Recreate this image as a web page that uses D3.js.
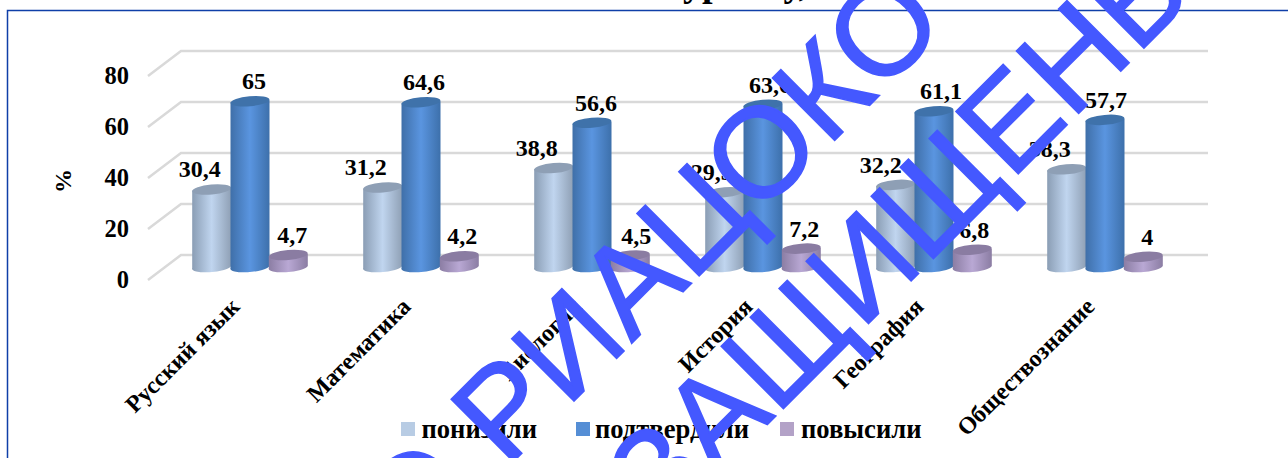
<!DOCTYPE html>
<html><head><meta charset="utf-8">
<script src="https://cdn.jsdelivr.net/npm/d3@7"></script>
<style>html,body{margin:0;padding:0;background:#fff;overflow:hidden}svg{display:block}</style>
</head><body><svg id="c" width="1288" height="458"></svg>
<script>
const categories=["Русский язык","Математика","Биология","История","География","Обществознание"];
const lowered=[30.4,31.2,38.8,29.3,32.2,38.3];
const confirmed=[65,64.6,56.6,63.6,61.1,57.7];
const raised=[4.7,4.2,4.5,7.2,6.8,4];
const ticks=[0,20,40,60,80];
const seriesNames=["понизили","подтвердили","повысили"];
const seriesColors=[["#8a9db4","#c0d5ef","#8fa0b5"],["#3f6fa8","#5a95e0","#3d70ab"],["#8b7da3","#b9a8d4","#8b7da3"]];
const topColors=["#8e9fb5","#3f72aa","#8a7ca2"];
const legendColors=["#b8cce4","#558ed5","#b3a2c7"];
const watermark=["О РИАЦОКО","ЗАЩИЩЕНЫ"];

const svg=d3.select("#c");
const defs=svg.append("defs");
seriesColors.forEach((c,i)=>{
  const g=defs.append("linearGradient").attr("id","g"+i);
  g.append("stop").attr("offset","0%").attr("stop-color",c[0]);
  g.append("stop").attr("offset","50%").attr("stop-color",c[1]);
  g.append("stop").attr("offset","100%").attr("stop-color",c[2]);
});
const serif="'Liberation Serif','Times New Roman',serif";
svg.append("rect").attr("x",7.5).attr("y",10.5).attr("width",1400).attr("height",600).attr("fill","#fff").attr("stroke","#0f3fa8").attr("stroke-width",1.5);
svg.append("text").attr("x",683).attr("y",-4).attr("font-family",serif).attr("font-weight","bold").attr("font-size",38).text("уровну,");

const y=d3.scaleLinear().domain([0,80]).range([255,51]);
const x=d3.scaleBand().domain(categories).range([164.5,1190.5]);
const dx=33,dy=25;
const grid=svg.append("g").attr("stroke","#d9d9d9").attr("stroke-width",2.5).attr("fill","none");
grid.selectAll("path").data(ticks).join("path").attr("d",t=>`M${181-dx},${y(t)+dy}L181,${y(t)}H1208`);

svg.append("g").selectAll("text").data(ticks).join("text")
  .attr("x",129).attr("y",t=>y(t)+dy+8).attr("text-anchor","end")
  .attr("font-family",serif).attr("font-weight","bold").attr("font-size",24.5).text(t=>t);
svg.append("text").attr("transform","translate(71,181) rotate(-90)").attr("text-anchor","middle")
  .attr("font-family",serif).attr("font-weight","bold").attr("font-size",24).text("%");

const base=267, bw=39, ry=5;
const h=v=>y(0)-y(v);
const labelShift=[[-12,-17,-17,-13,-15,-17],[4,3,4,7,7,1],[4,3,6,3,2,4]];
[lowered,confirmed,raised].forEach((vals,s)=>{
  const g=svg.append("g");
  const cx=c=>x(c)+x.bandwidth()/2+(s-1)*38.3;
  categories.forEach((c,i)=>{
    const X=cx(c)-bw/2, top=base-h(vals[i]);
    g.append("path").attr("fill",`url(#g${s})`)
      .attr("d",`M${X},${top+1}V${base+1}A${bw/2},${ry} -5 0 0 ${X+bw},${base-1}V${top-1}Z`);
    g.append("ellipse").attr("cx",cx(c)).attr("cy",top).attr("rx",bw/2).attr("ry",ry)
      .attr("transform",`rotate(-5 ${cx(c)} ${top})`).attr("fill",topColors[s]);
    g.append("text").attr("x",cx(c)+labelShift[s][i]).attr("y",top-12).attr("text-anchor","middle")
      .attr("font-family",serif).attr("font-weight","bold").attr("font-size",24).text(String(vals[i]).replace(".",","));
  });
});

svg.append("g").selectAll("text").data(categories).join("text")
  .attr("transform",c=>`translate(${x(c)+x.bandwidth()/2-9},${308}) rotate(-45)`)
  .attr("text-anchor","end").attr("font-family",serif).attr("font-weight","bold").attr("font-size",24).text(c=>c);

const lx=[401,576,780],tx=[421.5,595,801];
seriesNames.forEach((n,i)=>{
  svg.append("rect").attr("x",lx[i]).attr("y",422).attr("width",14).attr("height",14).attr("fill",legendColors[i]);
  svg.append("text").attr("x",tx[i]).attr("y",438).attr("font-family",serif).attr("font-weight","bold").attr("font-size",26.6).text(n);
});

const wm=svg.append("g").attr("fill","#4458ff").attr("stroke","#4458ff").attr("stroke-width",1.5).attr("font-family","'Liberation Sans',Arial,sans-serif").attr("font-size",128);
wm.append("text").attr("transform","translate(410.5,564.5) rotate(-45)").text(watermark[0]);
wm.append("text").attr("transform","translate(661,531) rotate(-45)").text(watermark[1]);
</script></body></html>
